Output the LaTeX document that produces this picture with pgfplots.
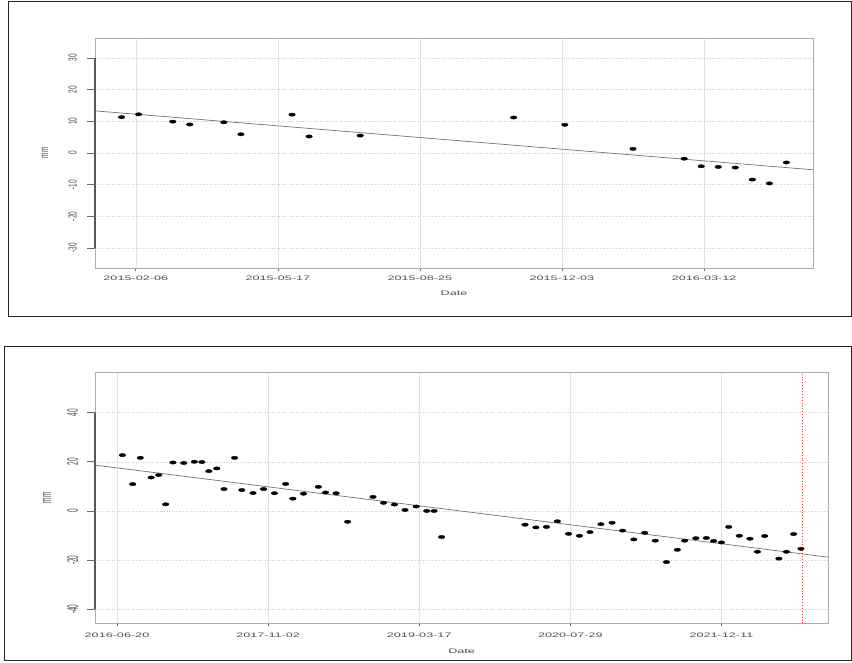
\documentclass[border=0pt]{standalone}
\usepackage{fontspec}
\setmainfont{Liberation Sans}
\usepackage{graphicx}
\usepackage{pgfplots}
\pgfplotsset{compat=1.18}

\newcommand\hs[1]{\scalebox{1.95}[1]{#1}}
\newcommand\vsa[1]{\scalebox{1.8}[1]{\rotatebox{90}{#1}}}
\newcommand\vsb[1]{\scalebox{2.35}[1]{\rotatebox{90}{#1}}}

\pgfplotstableread{
d v
-10 11.3
2 12.2
26 9.9
38 9.0
62 9.7
74 5.9
110 12.1
122 5.2
158 5.5
266 11.2
302 8.9
350 1.3
386 -1.8
398 -4.2
410 -4.4
422 -4.6
434 -8.4
446 -9.6
458 -3.0
}\topdata

\pgfplotstableread{
d v
18 22.7
52 10.9
77 21.6
113 13.6
138 14.6
161 2.7
185 19.7
221 19.5
256 20.0
281 19.9
304 16.2
330 17.3
354 8.9
389 21.6
413 8.5
450 7.3
485 8.9
521 7.2
558 11.0
582 5.0
617 7.0
666 9.8
690 7.5
725 7.2
763 -4.4
847 5.7
882 3.3
918 2.6
953 0.4
990 1.8
1025 0.0
1049 0.0
1074 -10.6
1350 -5.6
1386 -6.7
1421 -6.5
1457 -4.2
1494 -9.3
1530 -10.1
1565 -8.6
1601 -5.4
1638 -4.8
1673 -8.0
1710 -11.6
1746 -8.9
1781 -12.1
1818 -20.8
1854 -15.8
1878 -12.1
1915 -11.1
1950 -11.0
1974 -12.2
2000 -12.8
2024 -6.5
2059 -10.1
2094 -11.3
2119 -16.6
2143 -10.2
2190 -19.4
2215 -16.6
2239 -9.4
2263 -15.4
}\botdata

\pgfplotsset{
  rstyle/.style={
    scale only axis,
    axis line style={gray!65, line width=0.9bp},
    tick style={black!60, line width=0.6bp},
    tick align=outside,
    xtick pos=left, ytick pos=left,
    major tick length=2.7bp,
    ytick style={draw=none},
    grid=major,
    x grid style={gray!22, line width=0.5bp},
    y grid style={gray!40, dotted, line width=0.5bp},
    font=\fontsize{6.5}{7}\selectfont,
    every tick label/.append style={text=black!70},
    xticklabel style={anchor=center, inner sep=0pt},
    yticklabel style={anchor=center, inner sep=0pt},
    every axis x label/.style={anchor=center, inner sep=0pt, text=black!70},
    every axis y label/.style={anchor=center, inner sep=0pt, text=black!70},
    clip=false,
  },
  dots/.style={only marks, mark=*, mark size=1.65bp,
    mark options={xscale=2, fill=black, draw=black}},
}

\begin{document}
\begin{tikzpicture}[x=1bp,y=1bp]
\path[use as bounding box] (0,0) rectangle (852,663);

% frames
\draw[black!85, line width=1bp] (8,346.5) rectangle (851.5,661);
\draw[black!85, line width=1bp] (4.7,2) rectangle (851.5,316);

% top axis
\begin{axis}[rstyle,
  at={(95bp,395bp)}, anchor=south west,
  width=718bp, height=230bp,
  xmin=-28.7, xmax=476.7, ymin=-36.3, ymax=36.3,
  xtick={0,100,200,300,400},
  xticklabels={\hs{2015-02-06},\hs{2015-05-17},\hs{2015-08-25},\hs{2015-12-03},\hs{2016-03-12}},
  ytick={-30,-20,-10,0,10,20,30},
  yticklabels={\vsa{-30},\vsa{-20},\vsa{-10},\vsa{0},\vsa{10},\vsa{20},\vsa{30}},
  xlabel={\hs{Date}}, ylabel={\vsa{mm}},
  xlabel style={at={(axis description cs:0.5,-0.1087)}},
  ylabel style={at={(axis description cs:-0.0696,0.5)}},
  xticklabel style={yshift=-7.3bp},
  yticklabel style={xshift=-19.6bp},
]
\addplot[black!55, line width=0.7bp] coordinates {(-28.7,13.3) (476.7,-5.3)};
\addplot[dots] table[x=d, y=v] {\topdata};
\draw[black!65, line width=1.3bp] ({rel axis cs:0,0}|-{axis cs:0,30}) -- ({rel axis cs:0,0}|-{axis cs:0,-30});
\pgfplotsinvokeforeach{-30,-20,-10,0,10,20,30}{
  \draw[black!60, line width=0.6bp] ({rel axis cs:0,0}|-{axis cs:0,#1}) -- ++(-7.7bp,0bp);
}
\end{axis}

% bottom axis
\begin{axis}[rstyle,
  at={(95bp,39.7bp)}, anchor=south west,
  width=733.3bp, height=251bp,
  xmin=-72.8, xmax=2353.5, ymin=-45.7, ymax=56.4,
  xtick={0,500,1000,1500,2000},
  xticklabels={\hs{2016-06-20},\hs{2017-11-02},\hs{2019-03-17},\hs{2020-07-29},\hs{2021-12-11}},
  ytick={-40,-20,0,20,40},
  yticklabels={\vsb{-40},\vsb{-20},\vsb{0},\vsb{20},\vsb{40}},
  xlabel={\hs{Date}}, ylabel={\vsb{mm}},
  xlabel style={at={(axis description cs:0.5,-0.113)}},
  ylabel style={at={(axis description cs:-0.0655,0.5)}},
  xticklabel style={yshift=-9.7bp},
  yticklabel style={xshift=-19.6bp},
]
\addplot[black!55, line width=0.7bp] coordinates {(-72.8,18.65) (2353.5,-18.8)};
\addplot[red!80, dotted, line width=0.9bp] coordinates {(2267.5,-45.7) (2267.5,56.4)};
\addplot[dots] table[x=d, y=v] {\botdata};
\draw[black!65, line width=1.3bp] ({rel axis cs:0,0}|-{axis cs:0,40}) -- ({rel axis cs:0,0}|-{axis cs:0,-40});
\pgfplotsinvokeforeach{-40,-20,0,20,40}{
  \draw[black!60, line width=0.6bp] ({rel axis cs:0,0}|-{axis cs:0,#1}) -- ++(-7.7bp,0bp);
}
\end{axis}
\end{tikzpicture}
\end{document}
